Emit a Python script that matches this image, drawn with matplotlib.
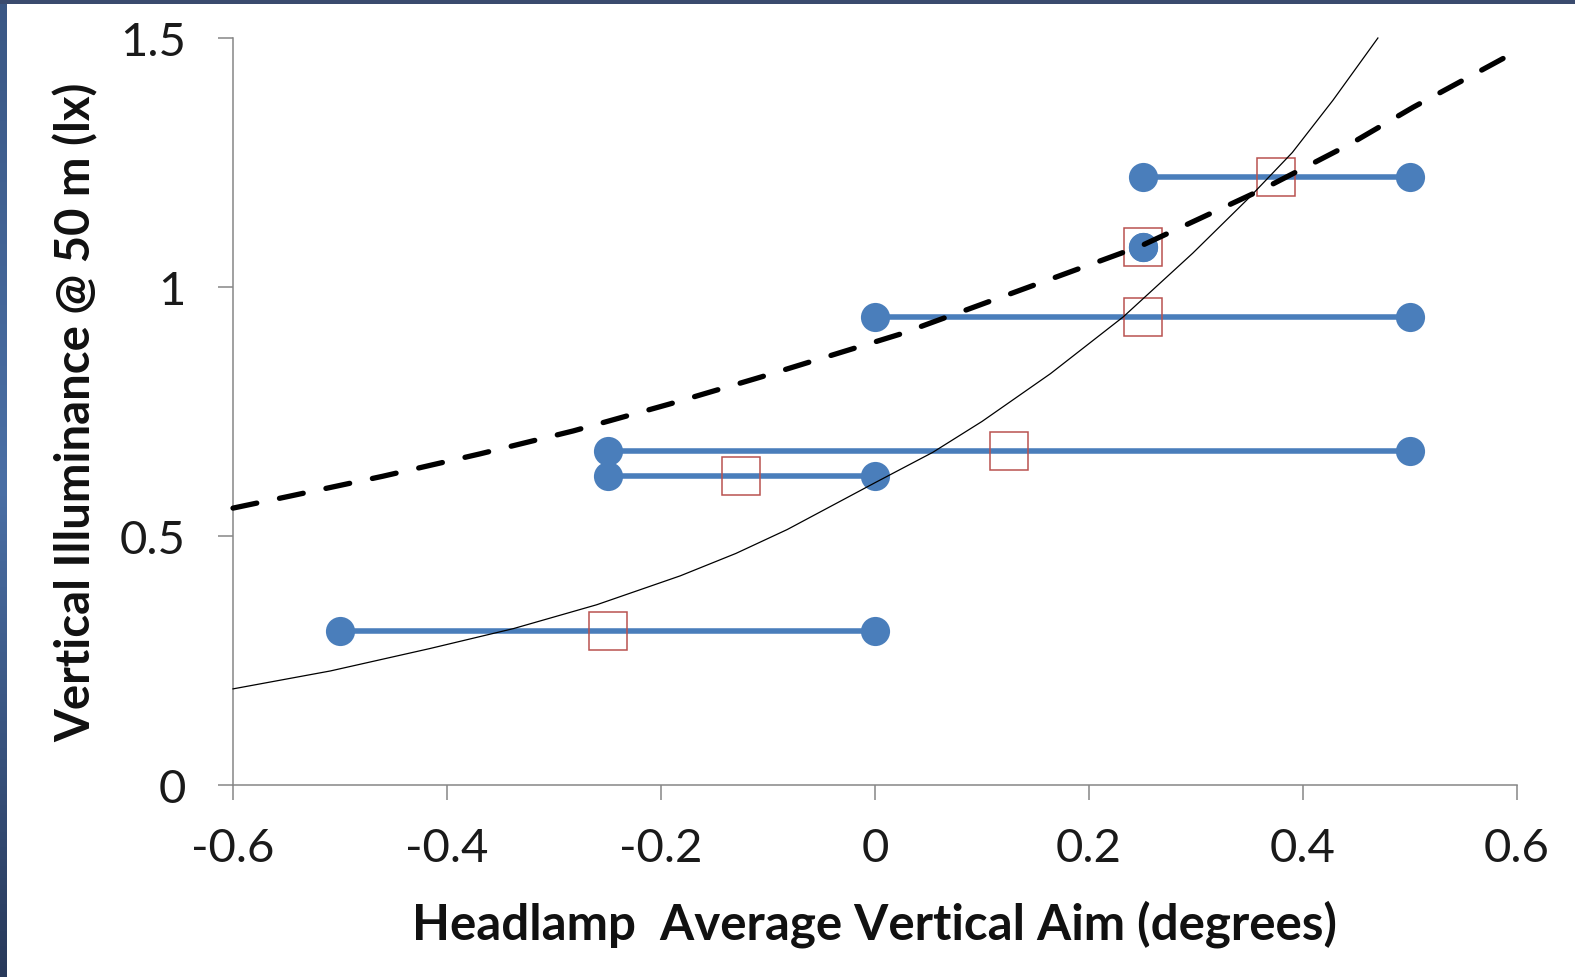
import numpy as np
import matplotlib
matplotlib.use("Agg")
import matplotlib.pyplot as plt
from matplotlib.colors import LinearSegmentedColormap

plt.rcParams['font.family'] = ['Lato', 'DejaVu Sans']
plt.rcParams['axes.unicode_minus'] = False

# Range data (horizontal segments) and their midpoints
seg_y = [0.31, 0.62, 0.67, 0.94, 1.08, 1.22]
seg_x_start = [-0.5, -0.25, -0.25, 0.0, 0.25, 0.25]
seg_x_end = [0.0, 0.0, 0.5, 0.5, 0.25, 0.5]
mid_x = [-0.25, -0.125, 0.125, 0.25, 0.25, 0.375]

# Solid thin fitted curve
solid_x = [-0.6, -0.509, -0.416, -0.338, -0.260, -0.182, -0.13, -0.082, 0.0, 0.054,
           0.1, 0.164, 0.232, 0.297, 0.350, 0.390, 0.428, 0.470]
solid_y = [0.193, 0.229, 0.274, 0.314, 0.362, 0.420, 0.465, 0.513, 0.607, 0.668,
           0.730, 0.826, 0.940, 1.068, 1.180, 1.270, 1.375, 1.500]

# Dashed thick fitted curve
dash_x = [-0.6, -0.547, -0.460, -0.369, -0.282, -0.192, -0.107, 0.023, 0.182,
          0.248, 0.363, 0.444, 0.503, 0.6]
dash_y = [0.556, 0.580, 0.620, 0.665, 0.711, 0.765, 0.819, 0.905, 1.030,
          1.082, 1.197, 1.287, 1.361, 1.474]

x_ticks = [-0.6, -0.4, -0.2, 0, 0.2, 0.4, 0.6]
x_labels = ['-0.6', '-0.4', '-0.2', '0', '0.2', '0.4', '0.6']
y_ticks = [0, 0.5, 1, 1.5]
y_labels = ['0', '0.5', '1', '1.5']

W, H = 1575, 978
fig = plt.figure(figsize=(W / 100, H / 100), dpi=100)
fig.patch.set_facecolor('white')

# decorative border: left gradient strip and top band
lax = fig.add_axes([0, 0, 7 / W, 1])
cmap = LinearSegmentedColormap.from_list('b', ['#28395a', '#4a6fa5', '#3a5784'])
lax.imshow(np.linspace(0, 1, 256).reshape(-1, 1), aspect='auto', cmap=cmap,
           extent=[0, 1, 0, 1], origin='lower')
lax.axis('off')
tax = fig.add_axes([0, 1 - 5 / H, 1, 5 / H])
tax.set_facecolor('#3a4b6e')
tax.set_xticks([]); tax.set_yticks([])
for s in tax.spines.values():
    s.set_visible(False)

ax = fig.add_axes([233 / W, 192 / H, (1517 - 233) / W, (786 - 39) / H])
ax.set_xlim(-0.6, 0.6)
ax.set_ylim(0, 1.5)

blue = '#4a7ebb'
red = '#b9524f'
for xs, xe, y in zip(seg_x_start, seg_x_end, seg_y):
    ax.plot([xs, xe], [y, y], color=blue, lw=4.0, marker='o', ms=21,
            markeredgewidth=0, solid_capstyle='butt', zorder=2)

ax.plot(mid_x, seg_y, linestyle='none', marker='s', ms=28, markerfacecolor='none',
        markeredgecolor=red, markeredgewidth=1.1, zorder=3)

ax.plot(solid_x, solid_y, color='black', lw=0.9, zorder=4, clip_on=False)
ax.plot(dash_x, dash_y, color='black', lw=3.8, dashes=(4.6, 4.4),
        dash_capstyle='round', zorder=5, clip_on=False)

for s in ['top', 'right']:
    ax.spines[s].set_visible(False)
for s in ['left', 'bottom']:
    ax.spines[s].set_color('#868686')
    ax.spines[s].set_linewidth(1.1)

ax.set_xticks(x_ticks)
ax.set_xticklabels(x_labels)
ax.set_yticks(y_ticks)
ax.set_yticklabels(y_labels)
ax.tick_params(axis='both', colors='#868686', length=11, width=1.1, labelcolor='#1a1a1a',
               labelsize=34)
ax.tick_params(axis='x', pad=19)
ax.tick_params(axis='y', pad=23)

ax.set_xlabel('Headlamp  Average Vertical Aim (degrees)', fontsize=35.5, fontweight='bold',
              color='#111111', labelpad=22)
ax.set_ylabel('Vertical Illuminance @ 50 m (lx)', fontsize=34, fontweight='bold',
              color='#111111', labelpad=15)

fig.savefig('out.png', dpi=100)
